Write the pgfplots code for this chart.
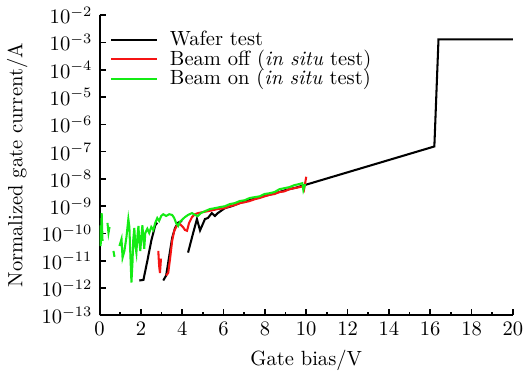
\documentclass[border=0pt]{standalone}
\usepackage{pgfplots}
\pgfplotsset{compat=1.18}
\definecolor{cgreen}{RGB}{20,235,20}
\definecolor{cred}{RGB}{245,20,20}
\begin{document}
\begin{tikzpicture}
\begin{axis}[
  scale only axis,
  width=201pt, height=146pt,
  xmin=0, xmax=20, ymin=1e-13, ymax=1e-2,
  ymode=log,
  axis lines=left,
  axis line style={-, line width=1pt},
  tick align=inside,
  tick style={black, line width=0.8pt},
  major tick length=3pt, minor tick length=1.6pt,
  xtick={0,2,...,20}, minor x tick num=1,
  ytick={1e-13,1e-12,1e-11,1e-10,1e-9,1e-8,1e-7,1e-6,1e-5,1e-4,1e-3,1e-2},
  log basis y=10,
  xlabel={Gate bias/V},
  ylabel={Normalized gate current/A},
  legend style={at={(0.01,0.975)}, anchor=north west, draw=none, fill=none, row sep=-3.5pt},
  legend cell align=left,
  legend image code/.code={\draw[#1] (0pt,0pt) -- (22pt,0pt); \path (26pt,0pt);},
  unbounded coords=jump,
]
\addplot[black, line width=1pt] coordinates {
(1.92,1.9e-12) (2.12,2.0e-12) (2.31,1.0e-11) (2.50,5.4e-11) (2.69,2.0e-10) (2.79,2.5e-10)
(2.80,nan)
(3.08,1.9e-12) (3.22,2.9e-12) (3.37,1.5e-11) (3.51,6.9e-11) (3.65,1.6e-10) (3.80,2.5e-10) (3.99,2.9e-10)
(4.00,nan)
(4.28,2.0e-11) (4.52,1.0e-10) (4.71,3.4e-10) (4.86,1.3e-10) (5.10,3.4e-10) (5.24,3.7e-10)
(5.43,5.6e-10) (5.58,4.4e-10) (5.72,5.6e-10) (6.06,8.5e-10) (6.39,1.0e-9) (6.78,1.3e-9)
(7.02,1.5e-9) (7.5,1.9e-9) (8.0,2.4e-9) (8.5,3.0e-9) (9.0,3.9e-9) (9.5,4.8e-9) (10.0,6.2e-9)
(16.2,1.55e-7) (16.4,1.3e-3) (20.0,1.3e-3)
};
\addlegendentry{Wafer test}
\addplot[cred, line width=1pt] coordinates {
(2.84,2.3e-11) (2.88,6.6e-12) (2.92,3.6e-12) (2.97,1.2e-11)
(3.00,nan)
(3.22,2.9e-12) (3.32,3.6e-12) (3.41,1.2e-11) (3.51,5.4e-11) (3.61,1.26e-10) (3.75,2.0e-10)
(3.89,2.2e-10) (4.04,1.7e-10) (4.13,1.35e-10) (4.23,1.26e-10) (4.33,2.45e-10) (4.47,4.0e-10)
(4.62,5.1e-10) (4.76,5.6e-10) (5.00,6.1e-10) (5.24,6.6e-10) (5.48,7.2e-10) (5.72,7.9e-10)
(6.06,8.5e-10) (6.30,1.0e-9) (6.54,1.1e-9) (6.78,1.3e-9) (7.02,1.4e-9) (7.26,1.55e-9)
(7.50,1.8e-9) (7.74,2.0e-9) (7.98,2.3e-9) (8.22,2.6e-9) (8.46,2.8e-9) (8.70,3.3e-9)
(8.94,3.5e-9) (9.18,4.2e-9) (9.42,4.6e-9) (9.66,5.0e-9) (9.86,5.4e-9) (9.90,4.4e-9) (10.0,1.2e-8)
};
\addlegendentry{Beam off (\textit{in situ} test)}
\addplot[cgreen, line width=1pt] coordinates {
(0.02,2.0e-10) (0.05,3.5e-11) (0.10,5.6e-10) (0.14,5.4e-11)
(0.20,nan)
(0.38,2.45e-10) (0.43,1.05e-10) (0.48,1.74e-10)
(0.55,nan)
(0.67,2.3e-11) (0.72,1.4e-11)
(0.80,nan)
(0.96,3.5e-11) (1.06,6.3e-11) (1.11,1.3e-11) (1.20,2.3e-11) (1.30,7.6e-11) (1.39,3.4e-10)
(1.44,1.74e-10) (1.49,1.5e-11) (1.54,1.6e-12) (1.59,8.5e-12) (1.63,6.3e-11) (1.68,1.6e-10)
(1.73,3.5e-11) (1.78,1.95e-11) (1.83,8.1e-11) (1.88,1.9e-10) (1.92,5.4e-11) (1.97,2.3e-11)
(2.02,7.6e-11) (2.07,2.0e-10) (2.12,6.3e-11) (2.16,2.75e-11) (2.21,1.05e-10) (2.31,1.5e-10)
(2.40,1.05e-10) (2.50,1.74e-10) (2.60,1.35e-10) (2.69,2.45e-10) (2.79,3.7e-10) (2.88,2.9e-10)
(2.98,4.4e-10) (3.08,5.1e-10) (3.22,4.4e-10) (3.37,5.1e-10) (3.51,4.8e-10) (3.61,3.7e-10)
(3.70,2.45e-10) (3.80,1.9e-10) (3.89,2.7e-10) (3.99,3.2e-10) (4.13,4.0e-10) (4.28,4.8e-10)
(4.47,5.6e-10) (4.62,4.8e-10) (4.76,4.4e-10) (4.90,5.6e-10) (5.10,6.6e-10) (5.34,7.9e-10)
(5.58,8.5e-10) (5.82,9.3e-10) (6.06,1.0e-9) (6.30,1.2e-9) (6.54,1.3e-9) (6.78,1.55e-9)
(7.02,1.66e-9) (7.26,2.0e-9) (7.50,2.15e-9) (7.74,2.3e-9) (7.98,2.8e-9) (8.22,3.0e-9)
(8.46,3.3e-9) (8.70,4.2e-9) (8.94,4.6e-9) (9.18,5.0e-9) (9.42,5.9e-9) (9.66,6.5e-9)
(9.81,7.0e-9) (9.86,3.9e-9) (9.95,6.5e-9)
};
\addlegendentry{Beam on (\textit{in situ} test)}
\end{axis}
\end{tikzpicture}
\end{document}
